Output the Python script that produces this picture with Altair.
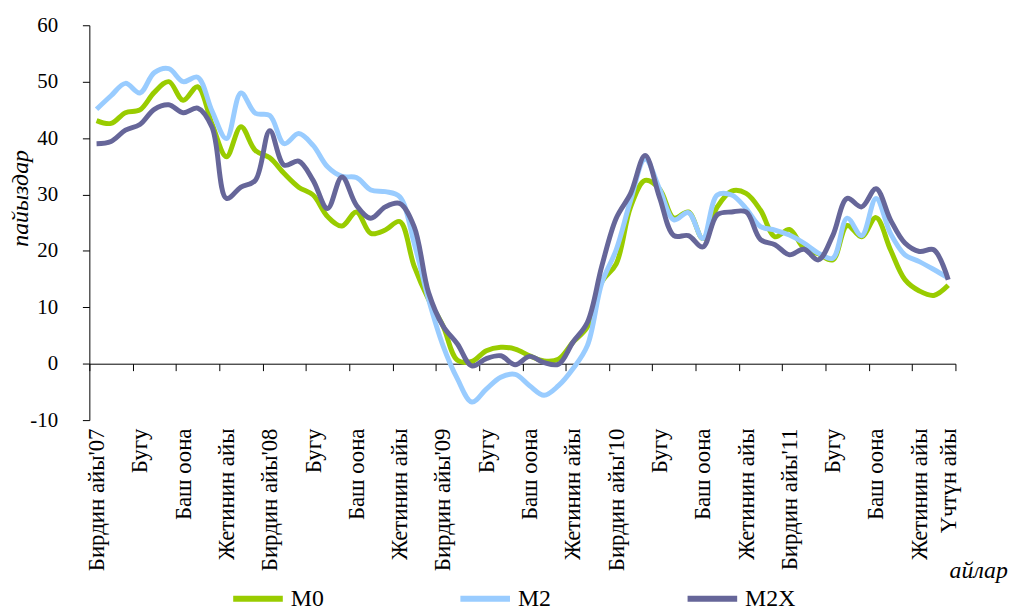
import json
import altair as alt
import pandas as pd

# Kyrgyz month names, Feb .. Jan (one fiscal cycle per year label)
month_names = ["Бирдин айы", "Жалган куран", "Чын куран", "Бугу", "Кулжа", "Теке",
               "Баш оона", "Аяк оона", "Тогуздун айы", "Жетинин айы", "Бештин айы", "Үчтүн айы"]
years = ["07", "08", "09", "10", "11"]

months = []
for yr in years:
    for k, nm in enumerate(month_names):
        months.append(nm + "'" + yr if k == 0 else nm)

m0 = [43.1, 42.6, 44.5, 45.0, 48.1, 50.0, 46.7, 49.1, 42.5, 36.7,
      42.0, 37.8, 36.5, 33.7, 31.3, 29.9, 26.1, 24.4, 26.9, 23.1,
      23.7, 25.2, 17.3, 11.4, 6.7, 0.6, 0.4, 2.3, 2.9, 2.6,
      1.4, 0.5, 0.8, 3.8, 6.5, 14.5, 17.7, 27.8, 32.5, 31.0,
      25.8, 26.9, 22.2, 27.8, 30.6, 30.2, 27.2, 22.5, 23.8, 20.5,
      19.5, 18.4, 24.5, 22.5, 25.9, 20.2, 14.9, 12.9, 12.1, 13.9]

m2 = [45.1, 47.5, 49.7, 48.0, 51.6, 52.3, 50.0, 50.8, 44.8, 39.9,
      48.0, 44.4, 44.0, 39.0, 40.8, 38.7, 34.9, 33.2, 33.0, 30.8,
      30.5, 29.6, 21.4, 11.4, 3.2, -2.7, -6.8, -4.5, -2.4, -1.9,
      -3.9, -5.6, -3.9, -0.9, 3.2, 14.3, 20.2, 29.0, 36.3, 31.0,
      25.5, 26.8, 22.2, 29.9, 29.9, 27.5, 24.3, 23.7, 22.8, 21.4,
      19.6, 18.7, 25.8, 22.7, 29.3, 23.1, 19.3, 18.1, 16.7, 15.2]

m2x = [39.0, 39.4, 41.4, 42.4, 45.1, 45.9, 44.5, 45.3, 41.9, 29.3,
       31.3, 32.5, 41.3, 35.2, 35.9, 32.5, 27.5, 33.1, 28.1, 25.8,
       27.8, 28.4, 24.3, 12.6, 6.7, 3.5, -0.4, 0.9, 1.4, -0.2,
       1.3, 0.2, -0.1, 3.8, 7.3, 17.3, 25.8, 30.2, 36.9, 29.5,
       22.7, 22.7, 20.7, 26.4, 26.9, 26.9, 22.0, 21.1, 19.3, 20.3,
       18.4, 22.7, 29.3, 27.8, 31.0, 25.5, 21.4, 19.9, 20.2, 14.9]

series_names = ["M0", "M2", "M2X"]
series_colors = ["#99CC00", "#99CCFF", "#666699"]
y_ticks = [-10, 0, 10, 20, 30, 40, 50, 60]

rows = []
for name, vals in zip(series_names, [m0, m2, m2x]):
    for i, v in enumerate(vals):
        rows.append({"idx": i, "value": v, "series": name})
df = pd.DataFrame(rows)

W, H = 873, 398
FONT = "Liberation Serif"
FS = 21
XFS = 23
TFS = 24
LFS = 24
n = len(months)
label_idx = list(range(0, n, 3)) + [n - 1]
tick_idx = [i - 0.5 for i in range(0, n + 1, 3)]
label_expr = json.dumps(months, ensure_ascii=False) + "[round(datum.value)]"

x_scale = alt.Scale(domain=[-0.5, n - 0.5], nice=False, zero=False)
y_scale = alt.Scale(domain=[-10, 60], nice=False, zero=False)

y_axis = alt.Axis(values=y_ticks, labelExpr="'' + datum.value", grid=False, tickSize=7,
                  tickColor="black", domainColor="black",
                  labelFont=FONT, labelFontSize=FS, labelColor="black", labelPadding=25,
                  title="пайыздар", titleFont=FONT, titleFontSize=TFS, titleFontStyle="italic",
                  titleFontWeight="normal", titleColor="black", titleX=-69, titleY=174,
                  titleAlign="center", titleBaseline="middle")

label_axis = alt.Axis(orient="bottom", values=label_idx, labelExpr=label_expr, labelAngle=-90,
                      ticks=False, tickSize=0, domain=False, grid=False, labelPadding=8,
                      labelFont=FONT, labelFontSize=XFS, labelColor="black",
                      labelOverlap=False, labelFlush=False,
                      title="айлар", titleFont=FONT, titleFontSize=TFS, titleFontStyle="italic",
                      titleFontWeight="normal", titleColor="black", titleX=896, titleY=152,
                      titleAlign="center", titleBaseline="middle")

zero_axis = alt.Axis(orient="bottom", values=tick_idx, labels=False, ticks=True, tickSize=7,
                     tickColor="black", domain=True, domainColor="black", grid=False,
                     offset=-H * 10 / 70, title=None)

legend = alt.Legend(orient="none", legendX=142, legendY=550, direction="horizontal", title=None,
                    symbolType="stroke", symbolSize=2500, symbolStrokeWidth=6,
                    labelFont=FONT, labelFontSize=LFS, labelColor="black", labelOffset=5,
                    columnPadding=108, gridAlign="all", padding=0, columns=3)

zero_layer = alt.Chart(df).mark_point(opacity=0).encode(
    x=alt.X("idx:Q", scale=x_scale, axis=zero_axis),
    y=alt.Y("value:Q", scale=y_scale, axis=y_axis),
)

lines = alt.Chart(df).mark_line(interpolate="catmull-rom", strokeWidth=5).encode(
    x=alt.X("idx:Q", scale=x_scale, axis=label_axis),
    y=alt.Y("value:Q", scale=y_scale, axis=y_axis),
    color=alt.Color("series:N", scale=alt.Scale(domain=series_names, range=series_colors),
                    legend=legend),
    detail="series:N",
)

chart = alt.layer(zero_layer, lines).resolve_axis(x="independent").properties(
    width=W, height=H,
    autosize=alt.AutoSizeParams(type="none"),
    padding={"left": 82, "top": 15, "right": 55, "bottom": 187},
    background="white",
).configure_view(stroke=None)

chart.save("out.html", embed_options={"renderer": "svg", "actions": False})
